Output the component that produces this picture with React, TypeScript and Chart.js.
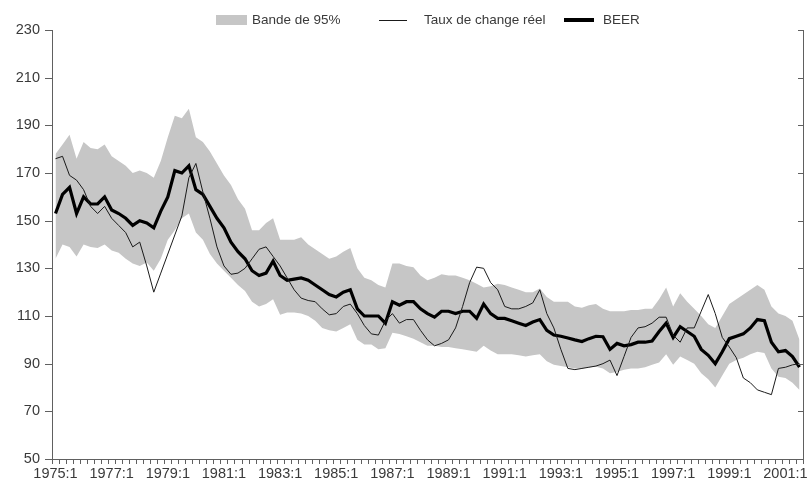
import React, { useEffect, useRef } from 'react';
import { Chart, registerables } from 'chart.js';

Chart.register(...registerables);

// Quarterly categories 1975:1 … 2001:3
const firstYear = 1975;
const lastYear = 2001;
const lastQuarter = 3;
const quarters: string[] = [];
for (let y = firstYear; y <= lastYear; y++) {
  for (let q = 1; q <= 4; q++) {
    if (y === lastYear && q > lastQuarter) break;
    quarters.push(`${y}:${q}`);
  }
}

const xTickLabels = [
  '1975:1', '1977:1', '1979:1', '1981:1', '1983:1', '1985:1', '1987:1',
  '1989:1', '1991:1', '1993:1', '1995:1', '1997:1', '1999:1', '2001:1',
];
const yTicks = [50, 70, 90, 110, 130, 150, 170, 190, 210, 230];

const beer = [
  153, 161, 164, 153, 160, 157, 157, 160, 154.5, 153,
  151, 148, 150, 149, 147, 154, 160, 171, 170, 173,
  163, 161, 156, 151, 147, 141, 137, 134, 129, 127,
  128, 133, 127, 125, 125.5, 126, 125, 123, 121, 119,
  118, 120, 121, 113, 110, 110, 110, 107, 116, 114.5,
  116, 116, 113, 111, 109.5, 112, 112, 111, 112, 112,
  109, 115, 111, 109, 109, 108, 107, 106, 107.5, 108.5,
  104, 102, 101.5, 100.8, 100, 99.3, 100.5, 101.5, 101.3, 96,
  98.5, 97.5, 98, 99, 99, 99.5, 103.5, 107, 101, 105.5,
  103.5, 101.5, 96, 93.5, 90, 95, 100.5, 101.5, 102.5, 105,
  108.5, 108, 99, 95, 95.5, 93, 88.5,
];

const tauxReel = [
  176, 177, 169, 167, 163, 156, 153, 156, 151, 148,
  145, 139, 141, 131, 120, 128, 136, 144, 152, 168,
  174, 162, 151, 139, 131, 127.5, 128, 130, 134, 138,
  139, 135, 131, 126, 121, 117.5, 116.5, 116, 113, 110.5,
  111, 114, 115, 111, 106, 102.5, 102, 108, 111, 107,
  108.5, 108.5, 104, 100, 97.5, 98.5, 100, 105, 114, 124,
  130.5, 130, 124, 121, 114, 113, 113, 114, 115.5, 121,
  111, 105, 96, 88, 87.5, 88, 88.5, 89, 90, 91.5,
  85, 93, 101, 105, 105.5, 107, 109.5, 109.5, 102, 99,
  105, 105, 112, 119, 111, 101, 97, 92.5, 84, 82,
  79, 78, 77, 88, 88.5, 89.5, 90,
];

const bandUpper = [
  178, 182, 186, 176, 183, 180.5, 180, 182, 177, 175,
  173, 170, 171, 170, 168, 175, 185, 194, 193, 197,
  185, 183, 179, 174, 169, 165, 159, 155, 146, 146,
  149, 151, 142, 142, 142, 143, 140, 138, 136, 134,
  135, 137, 138.5, 130, 126, 125, 123, 122, 132, 132,
  131, 130.5, 127, 125, 126, 127.5, 127, 127, 126, 125,
  123.5, 122, 122.5, 123.5, 123, 122, 121, 120, 120, 121.5,
  118, 116, 116, 116, 114, 113.5, 114.5, 115, 113, 112,
  112, 112, 112.5, 112.5, 113, 113, 117, 122, 114, 119.5,
  116, 113, 110, 106.5, 105, 110, 115, 117, 119, 121,
  123, 121, 114, 111, 110, 108, 100,
];

const bandLower = [
  134, 140, 139, 135, 140, 139, 138.5, 140, 137.5, 136.5,
  134, 132, 131, 132.5, 129, 134, 142, 146, 151, 153,
  145, 142, 136, 132, 129, 126, 123, 120.5, 116, 114,
  115, 117, 110.5, 111.5, 111.5, 111, 110, 108, 105, 104,
  103.5, 105, 106.5, 100, 98, 98, 96, 96.5, 103, 102.5,
  101.5, 100.5, 99, 97.5, 97.5, 97, 97, 96.5, 96, 95.5,
  95, 97.5, 95.5, 94, 94, 94, 93.5, 93, 93.5, 94,
  91, 89.5, 89, 88.5, 88, 88, 88.5, 88.7, 88, 86,
  86.5, 87.5, 88, 88, 88.5, 89.5, 90.5, 94, 89.5, 93,
  91.5, 90, 86, 83.5, 80, 85, 90, 91.5, 92.5, 94,
  95, 94.5, 88, 84.5, 84, 82, 79,
];

const bandColor = 'rgb(198,198,198)';
const textColor = '#3a3a3a';
const axisColor = '#606060';
const fontFamily = '"Liberation Sans", Arial, sans-serif';

// Tick marks placed with the library's scales (quarterly comb + y ticks)
const tickMarksPlugin = {
  id: 'tickMarks',
  afterDraw(chart: any) {
    const ctx = chart.ctx as CanvasRenderingContext2D;
    const area = chart.chartArea;
    const xs = chart.scales.x;
    const ys = chart.scales.y;
    const step = xs.getPixelForValue(1) - xs.getPixelForValue(0);
    ctx.save();
    ctx.strokeStyle = axisColor;
    ctx.lineWidth = 1;
    ctx.beginPath();
    for (let i = 0; i <= quarters.length; i++) {
      const px = Math.round(xs.getPixelForValue(i) - step / 2) + 0.5;
      ctx.moveTo(px, area.bottom);
      ctx.lineTo(px, area.bottom + 5);
    }
    for (const v of yTicks) {
      const py = Math.round(ys.getPixelForValue(v)) + 0.5;
      ctx.moveTo(area.left - 7, py);
      ctx.lineTo(area.left, py);
      ctx.moveTo(area.right - 5, py);
      ctx.lineTo(area.right, py);
    }
    ctx.stroke();
    ctx.restore();
  },
};

const legendPlugin = {
  id: 'customLegend',
  afterDraw(chart: any) {
    const ctx = chart.ctx as CanvasRenderingContext2D;
    const ds = chart.data.datasets;
    const y = 20;
    ctx.save();
    ctx.font = `13.5px ${fontFamily}`;
    ctx.textBaseline = 'middle';
    ctx.textAlign = 'left';
    // band item
    ctx.fillStyle = ds[0].backgroundColor;
    ctx.fillRect(216, y - 5, 31, 10);
    ctx.fillStyle = textColor;
    ctx.fillText(ds[0].label, 252, y);
    // thin line item
    ctx.strokeStyle = ds[2].borderColor;
    ctx.lineWidth = ds[2].borderWidth;
    ctx.beginPath();
    ctx.moveTo(379, y + 0.5);
    ctx.lineTo(407, y + 0.5);
    ctx.stroke();
    ctx.fillText(ds[2].label, 424, y);
    // thick line item
    ctx.strokeStyle = ds[3].borderColor;
    ctx.lineWidth = 4;
    ctx.beginPath();
    ctx.moveTo(564, y);
    ctx.lineTo(594, y);
    ctx.stroke();
    ctx.fillText(ds[3].label, 603, y);
    ctx.restore();
  },
};

export default function App() {
  const canvasRef = useRef<HTMLCanvasElement | null>(null);

  useEffect(() => {
    if (!canvasRef.current) return;
    const chart = new Chart(canvasRef.current, {
      type: 'line',
      data: {
        labels: quarters,
        datasets: [
          { label: 'Bande de 95%', data: bandUpper, borderColor: 'transparent', borderWidth: 0, backgroundColor: bandColor, pointRadius: 0, fill: '+1' },
          { label: 'lower', data: bandLower, borderColor: 'transparent', borderWidth: 0, backgroundColor: bandColor, pointRadius: 0, fill: false },
          { label: 'Taux de change réel', data: tauxReel, borderColor: '#1a1a1a', borderWidth: 1, pointRadius: 0, fill: false },
          { label: 'BEER', data: beer, borderColor: '#000000', borderWidth: 3.2, pointRadius: 0, fill: false },
        ],
      },
      options: {
        animation: false,
        responsive: false,
        maintainAspectRatio: false,
        layout: { padding: { top: 30, left: 0, right: 0, bottom: 0 } },
        plugins: {
          legend: { display: false },
          tooltip: { enabled: false },
          filler: { drawTime: 'beforeDatasetsDraw' },
        },
        elements: { line: { tension: 0 } },
        scales: {
          x: {
            type: 'category',
            offset: true,
            grid: { display: false, drawTicks: false },
            border: { display: true, color: axisColor },
            ticks: {
              autoSkip: false, maxRotation: 0, minRotation: 0, padding: 6,
              color: textColor, font: { family: fontFamily, size: 14.5 },
              callback: (_v: any, i: number) => (xTickLabels.includes(quarters[i]) ? quarters[i] : ''),
            },
            afterFit: (s: any) => { s.height = 30; },
          },
          y: {
            position: 'left',
            min: yTicks[0],
            max: yTicks[yTicks.length - 1],
            afterBuildTicks: (s: any) => { s.ticks = yTicks.map((v) => ({ value: v })); },
            grid: { display: false, drawTicks: false },
            border: { display: true, color: axisColor },
            ticks: { padding: 12, color: textColor, font: { family: fontFamily, size: 14.5 } },
            afterFit: (s: any) => { s.width = 52; },
          },
          y2: {
            position: 'right',
            min: yTicks[0],
            max: yTicks[yTicks.length - 1],
            grid: { display: false, drawTicks: false },
            border: { display: true, color: axisColor },
            ticks: { display: false },
            afterFit: (s: any) => { s.width = 4; },
          },
        },
      },
      plugins: [tickMarksPlugin, legendPlugin],
    } as any);
    return () => chart.destroy();
  }, []);

  return (
    <div style={{ position: 'absolute', left: 0, top: 0, width: 807, height: 489, background: '#fff' }}>
      <canvas ref={canvasRef} width={807} height={489} style={{ width: 807, height: 489 }} />
    </div>
  );
}
